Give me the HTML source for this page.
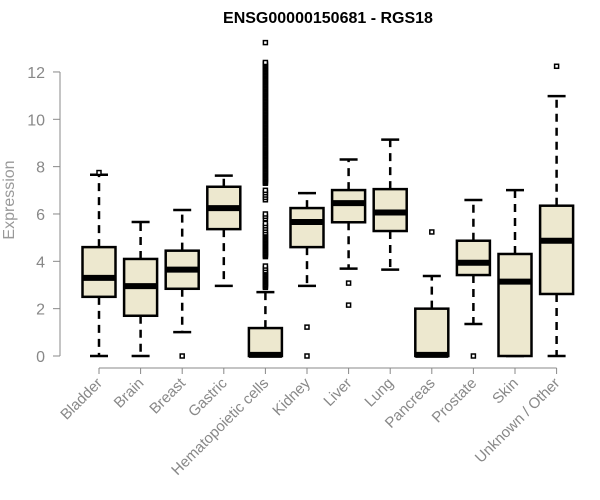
<!DOCTYPE html>
<html><head><meta charset="utf-8"><style>
body{margin:0;background:#fff}
svg{display:block;font-family:"Liberation Sans",Arial,sans-serif}
</style></head><body>
<svg id="chart" width="600" height="500" viewBox="0 0 600 500">
<text x="328" y="23" text-anchor="middle" font-weight="bold" font-size="16">ENSG00000150681 - RGS18</text>
<text transform="translate(14,200) rotate(-90)" text-anchor="middle" font-size="16" fill="#999">Expression</text>
<g id="axes"></g><g id="boxes"></g>
</svg>
<script>
const categories=["Bladder","Brain","Breast","Gastric","Hematopoietic cells","Kidney","Liver","Lung","Pancreas","Prostate","Skin","Unknown / Other"];
const whiskerLow=[0,0,1.01,2.96,0,2.96,3.69,3.65,0,1.35,0,0];
const q1=[2.5,1.7,2.84,5.36,0,4.6,5.65,5.28,0,3.42,0,2.62];
const medians=[3.3,2.95,3.65,6.25,0.05,5.66,6.46,6.06,0.05,3.94,3.14,4.87];
const q3=[4.6,4.1,4.45,7.15,1.18,6.25,7.01,7.05,2.0,4.87,4.31,6.35];
const whiskerHigh=[7.66,5.66,6.17,7.62,2.7,6.88,8.3,9.14,3.38,6.59,7.01,10.98];
const outliers=[[7.75],[],[0],[],[2.9,2.95,3.0,3.05,3.1,3.15,3.2,3.25,3.3,3.35,3.4,3.45,3.5,3.55,3.6,3.7,3.8,4.2,4.25,4.3,4.35,4.4,4.45,4.5,4.55,4.6,4.65,4.7,4.75,4.8,4.85,4.9,4.95,5.0,5.05,5.1,5.15,5.2,5.3,5.4,5.5,5.6,5.8,5.9,6.0,6.6,6.7,6.8,6.9,7.0,7.3,7.35,7.4,7.45,7.5,7.55,7.6,7.65,7.7,7.75,7.8,7.85,7.9,7.95,8.0,8.05,8.1,8.15,8.2,8.25,8.3,8.35,8.4,8.45,8.5,8.55,8.6,8.65,8.7,8.75,8.8,8.85,8.9,8.95,9.0,9.05,9.1,9.15,9.2,9.25,9.3,9.35,9.4,9.45,9.5,9.55,9.6,9.65,9.7,9.75,9.8,9.85,9.9,9.95,10.0,10.05,10.1,10.15,10.2,10.25,10.3,10.35,10.4,10.45,10.5,10.55,10.6,10.65,10.7,10.75,10.8,10.85,10.9,10.95,11.0,11.05,11.1,11.15,11.2,11.25,11.3,11.35,11.4,11.45,11.5,11.55,11.6,11.65,11.7,11.75,11.8,11.85,11.9,11.95,12.0,12.05,12.1,12.15,12.2,12.25,12.3,12.35,12.4,13.24],[1.22,0],[3.08,2.15],[],[5.24],[0],[],[12.24]];
const yTicks=[0,2,4,6,8,10,12];
const NS="http://www.w3.org/2000/svg";
const y=v=>356-v*23.67;
const x=i=>99+i*41.6;
function mk(t,a,p){const e=document.createElementNS(NS,t);for(const k in a)e.setAttribute(k,a[k]);p.appendChild(e);return e;}
const ax=document.getElementById('axes'),bx=document.getElementById('boxes');
const yl=mk('line',{x1:60,x2:60,y1:y(0),y2:y(12),stroke:'#888'},ax);


yTicks.forEach(t=>{
 const tl=mk('line',{x1:53,x2:60,y1:y(t),y2:y(t),stroke:'#888'},ax);
 
 
 const tx=mk('text',{x:45,y:y(t)+6,'text-anchor':'end','font-size':16,fill:'#888'},ax);
 tx.textContent=t;
 
 
});
const xl=mk('line',{x1:x(0),x2:x(categories.length-1),y1:368,y2:368,stroke:'#888'},ax);


categories.forEach((c,i)=>{
 const cx=x(i);
 const tk=mk('line',{x1:cx,x2:cx,y1:368,y2:374,stroke:'#888'},ax);
 
 
 const tx=mk('text',{x:cx+4,y:384,'text-anchor':'end','font-size':15,fill:'#888',transform:`rotate(-45 ${cx+4} 384)`},ax);
 tx.textContent=c;
 
 
 const g=mk('g',{},bx);
 
 
 const d={stroke:'#000','stroke-width':2.5,'stroke-dasharray':'8,6'};
 mk('line',Object.assign({x1:cx,x2:cx,y1:y(q3[i]),y2:y(whiskerHigh[i])},d),g);
 mk('line',Object.assign({x1:cx,x2:cx,y1:y(q1[i]),y2:y(whiskerLow[i])},d),g);
 mk('line',{x1:cx-9,x2:cx+9,y1:y(whiskerHigh[i]),y2:y(whiskerHigh[i]),stroke:'#000','stroke-width':2.5},g);
 mk('line',{x1:cx-9,x2:cx+9,y1:y(whiskerLow[i]),y2:y(whiskerLow[i]),stroke:'#000','stroke-width':2.5},g);
 mk('rect',{x:cx-16.5,y:y(q3[i]),width:33,height:y(q1[i])-y(q3[i]),fill:'#ede8cf',stroke:'#000','stroke-width':2.5},g);
 mk('line',{x1:cx-16.5,x2:cx+16.5,y1:y(medians[i]),y2:y(medians[i]),stroke:'#000','stroke-width':6},g);
 outliers[i].forEach(v=>{
  const p=mk('rect',{x:cx-2,y:y(v)-2,width:4,height:4,fill:'#fff',stroke:'#000','stroke-width':1.5},g);
  
  
 });
});
</script>
</body></html>
